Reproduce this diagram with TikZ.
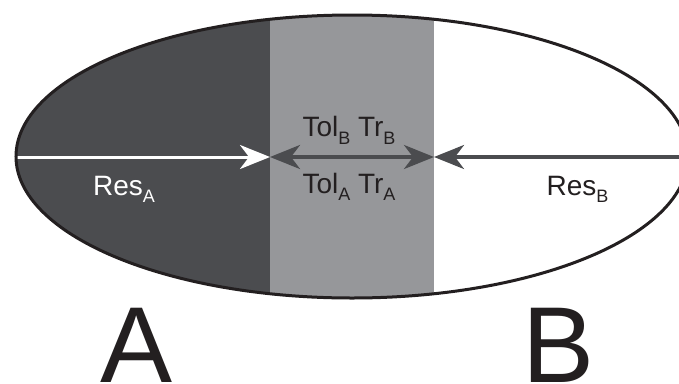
\documentclass[tikz,border=0pt]{standalone}
\usepackage{fontspec}
\setmainfont{Liberation Sans}
\usetikzlibrary{arrows.meta, positioning}
\definecolor{darkgrey}{RGB}{75,76,79}
\definecolor{midgrey}{RGB}{150,151,154}
\definecolor{inkblack}{RGB}{35,31,32}
\newcommand{\lowsub}[1]{\raisebox{-7.5pt}{\fontsize{18}{18}\selectfont #1}}

\begin{document}
\begin{tikzpicture}[x=1pt,y=-1pt,
    lbl/.style={inner sep=0pt, anchor=base, font=\fontsize{28}{30}\selectfont},
    big/.style={inner sep=0pt, anchor=base, text=inkblack, font=\fontsize{108}{108}\selectfont},
    tip/.style={-{Stealth[length=30pt,width=24pt,inset=9pt]}},
    tips/.style={{Stealth[length=30pt,width=24pt,inset=9pt]}-{Stealth[length=30pt,width=24pt,inset=9pt]}}]
        \useasboundingbox (0,0) rectangle (679,383);
        \clip (0,0) rectangle (679,383);

        % the three zones inside the ellipse
        \begin{scope}
          \clip (352,156.5) ellipse [x radius=336pt, y radius=141.5pt];
          \fill[darkgrey] (0,0) rectangle (270,300);
          \fill[midgrey] (270,0) rectangle (434,300);
        \end{scope}

        \coordinate (west) at (15,157);
        \coordinate (ab) at (270,157);
        \coordinate (ba) at (434,157);
        \coordinate (east) at (695,157);

        \draw[tip, white, line width=3pt] (west) -- (ab);
        \draw[tips, darkgrey, line width=3.5pt] (ab) -- (ba);
        \draw[tip, darkgrey, line width=3.5pt] (east) -- (ba);

        \draw[inkblack, line width=3pt] (352,156.5) ellipse [x radius=336pt, y radius=141.5pt];

        \node[lbl, text=white] (resA) at (124,195) {Res\lowsub{A}};
        \node[lbl, text=inkblack] (tolB) at (349,136.7) {Tol\lowsub{B} Tr\lowsub{B}};
        \node[lbl, text=inkblack] (tolA) at (349,193.3) {Tol\lowsub{A} Tr\lowsub{A}};
        \node[lbl, text=inkblack] (resB) at (577.5,195) {Res\lowsub{B}};

        \node[big] (A) at (136.5,382) {A};
        \node[big] (B) at (559,382) {B};

      \end{tikzpicture}
\end{document}
